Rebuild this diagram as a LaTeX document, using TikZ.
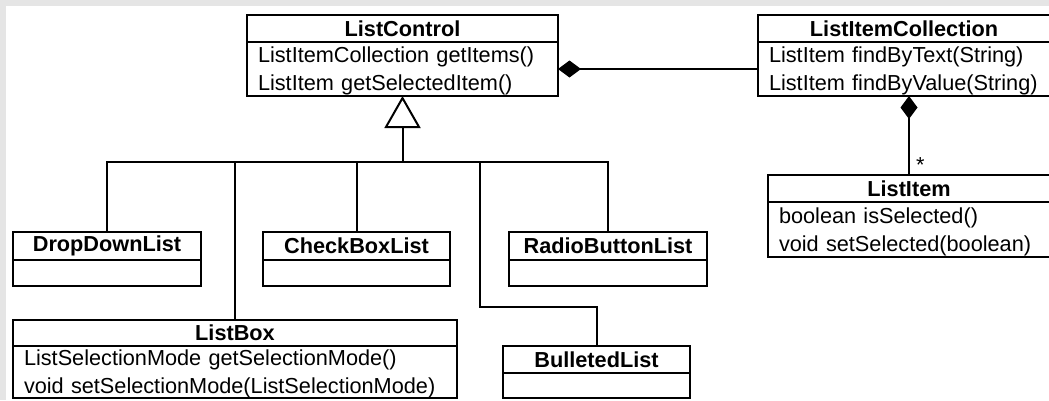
\documentclass[tikz,border=0pt]{standalone}
\usepackage{fontspec}
\setmainfont{Liberation Sans}
\usetikzlibrary{positioning,arrows.meta}

\newlength{\du}
\setlength{\du}{1pt}
\newcommand{\umlfont}{\fontsize{21.7}{28}\selectfont}
\newcommand{\umlstrut}{\rule{0pt}{19.5\du}}

\tikzset{
  classhead/.style={draw, line width=2\du, outer sep=0pt, inner sep=0pt,
    anchor=north west, font=\umlfont\bfseries},
  classbody/.style={draw, line width=2\du, outer sep=0pt, inner xsep=11\du,
    inner ysep=0pt, align=left, font=\umlfont},
  umlline/.style={line width=2\du},
  generalize/.style={umlline, -{Triangle[open,length=32pt,width=36pt]}},
  compose/.style={umlline, {Diamond[length=23pt,width=17pt]}-},
}

\begin{document}
\begin{tikzpicture}
\pgftransformxscale{1.000000}
\pgftransformyscale{-1.000000}
\definecolor{dialinecolor}{rgb}{0.000000, 0.000000, 0.000000}
\pgfsetstrokecolor{dialinecolor}
\definecolor{framecolor}{rgb}{0.900000, 0.900000, 0.900000}
\useasboundingbox (0\du,0\du) rectangle (1049\du,400\du);
\fill[framecolor] (0\du,0\du) rectangle (1049\du,400\du);
\fill[white] (6\du,6\du) rectangle (1070\du,420\du);

% classes
\node[classhead, minimum width=311\du, minimum height=27\du] (lchead) at (247\du,15\du) {ListControl};
\node[classbody, below=0pt of lchead, text width=289\du, minimum height=54\du] (lcbody) {\umlstrut ListItemCollection getItems()\\ListItem getSelectedItem()};

\node[classhead, minimum width=292\du, minimum height=27\du] (lichead) at (758\du,15\du) {ListItemCollection};
\node[classbody, below=0pt of lichead, text width=270\du, minimum height=54\du] (licbody) {\umlstrut ListItem findByText(String)\\ListItem findByValue(String)};

\node[classhead, minimum width=282\du, minimum height=27\du] (lihead) at (768\du,175\du) {ListItem};
\node[classbody, below=0pt of lihead, text width=260\du, minimum height=55\du] (libody) {\umlstrut boolean isSelected()\\void setSelected(boolean)};

\node[classhead, minimum width=188\du, minimum height=28\du] (ddhead) at (13\du,232\du) {DropDownList};
\node[classbody, below=0pt of ddhead, minimum width=188\du, minimum height=26\du] (ddbody) {};

\node[classhead, minimum width=187\du, minimum height=28\du] (cbhead) at (263\du,232\du) {CheckBoxList};
\node[classbody, below=0pt of cbhead, minimum width=187\du, minimum height=26\du] (cbbody) {};

\node[classhead, minimum width=198\du, minimum height=28\du] (rbhead) at (509\du,232\du) {RadioButtonList};
\node[classbody, below=0pt of rbhead, minimum width=198\du, minimum height=26\du] (rbbody) {};

\node[classhead, minimum width=444\du, minimum height=26\du] (lbhead) at (13\du,320\du) {ListBox};
\node[classbody, below=0pt of lbhead, text width=422\du, minimum height=52\du] (lbbody) {\umlstrut ListSelectionMode getSelectionMode()\\void setSelectionMode(ListSelectionMode)};

\node[classhead, minimum width=187\du, minimum height=27\du] (blhead) at (503\du,346\du) {BulletedList};
\node[classbody, below=0pt of blhead, minimum width=187\du, minimum height=25\du] (blbody) {};

% inheritance tree
\coordinate (bus) at (403\du,162\du);
\coordinate (blbend) at (480\du,307\du);
\draw[generalize] (lcbody.south |- bus) -- (lcbody.south);
\draw[umlline] (ddhead.north) |- (rbhead.north |- bus) -- (rbhead.north);
\draw[umlline] (lbhead.north) -- (lbhead.north |- bus);
\draw[umlline] (cbhead.north) -- (cbhead.north |- bus);
\draw[umlline] (blbend |- bus) -- (blbend) -| (blhead.north);

% compositions
\draw[compose] (lcbody.east) -- (licbody.west);
\draw[compose] (lihead.north |- licbody.south) -- (lihead.north)
  node[pos=0.87, right, inner sep=0pt, xshift=6\du, font=\umlfont] (mult) {*};
\end{tikzpicture}
\end{document}
